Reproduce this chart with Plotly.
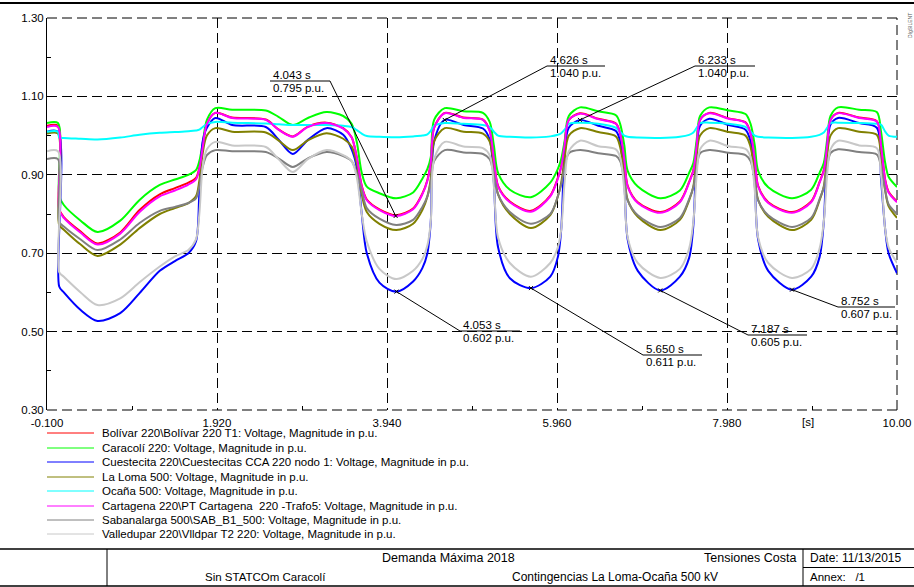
import plotly.graph_objects as go

# ---------------- data ----------------
time_s = [
    -0.10, 0.03,
    0.045, 0.10, 0.30, 0.50, 0.77, 1.00, 1.24, 1.42, 1.58, 1.67, 1.71, 1.75, 1.80,
    1.90, 2.10, 2.50, 2.65, 2.82, 3.00, 3.22, 3.42,
    3.52, 3.58, 3.64, 3.70, 3.85, 4.05, 4.25, 4.36, 4.42, 4.46, 4.50,
    4.626, 4.85, 5.08,
    5.16, 5.21, 5.26, 5.40, 5.65, 5.88, 5.97, 6.01, 6.05, 6.10,
    6.233, 6.45, 6.66,
    6.71, 6.76, 6.80, 6.92, 7.187, 7.42, 7.53, 7.58, 7.62, 7.66,
    7.77, 8.00, 8.20,
    8.26, 8.31, 8.35, 8.47, 8.752, 8.98, 9.08, 9.13, 9.17, 9.21,
    9.30, 9.55, 9.76,
    9.81, 9.86, 9.90, 10.00,
]

bolivar = [
    1.025, 1.025,
    0.812, 0.792, 0.755, 0.725, 0.753, 0.810, 0.850, 0.866, 0.880, 0.892, 0.918, 0.972, 1.030,
    1.058, 1.046, 1.041, 1.016, 0.998, 1.023, 1.033, 1.019,
    0.996, 0.946, 0.872, 0.837, 0.812, 0.797, 0.814, 0.852, 0.887, 0.932, 1.020,
    1.058, 1.046, 1.041,
    1.013, 0.942, 0.872, 0.832, 0.808, 0.847, 0.892, 0.922, 0.977, 1.040,
    1.057, 1.043, 1.031,
    1.006, 0.942, 0.872, 0.830, 0.805, 0.832, 0.882, 0.912, 0.977, 1.040,
    1.058, 1.044, 1.034,
    1.006, 0.942, 0.872, 0.830, 0.805, 0.832, 0.882, 0.912, 0.977, 1.040,
    1.058, 1.046, 1.037,
    0.977, 0.887, 0.857, 0.832,
]

caracoli = [
    1.032, 1.032,
    0.846, 0.823, 0.783, 0.754, 0.783, 0.836, 0.874, 0.888, 0.900, 0.912, 0.935, 0.980, 1.040,
    1.070, 1.066, 1.064, 1.048, 1.027, 1.045, 1.060, 1.050,
    1.030, 0.985, 0.905, 0.870, 0.853, 0.840, 0.855, 0.890, 0.915, 0.945, 1.040,
    1.070, 1.062, 1.058,
    1.035, 0.975, 0.905, 0.862, 0.843, 0.880, 0.915, 0.940, 0.985, 1.050,
    1.072, 1.062, 1.052,
    1.030, 0.975, 0.910, 0.870, 0.840, 0.860, 0.905, 0.930, 0.990, 1.050,
    1.072, 1.064, 1.055,
    1.030, 0.975, 0.910, 0.868, 0.840, 0.862, 0.905, 0.930, 0.990, 1.050,
    1.072, 1.066, 1.060,
    1.010, 0.930, 0.895, 0.869,
]

cuestecita = [
    1.010, 1.010,
    0.615, 0.600, 0.555, 0.527, 0.547, 0.598, 0.655, 0.680, 0.700, 0.730, 0.850, 0.985, 1.020,
    1.045, 1.027, 1.022, 0.990, 0.953, 0.989, 1.019, 1.002,
    0.965, 0.920, 0.800, 0.700, 0.625, 0.602, 0.628, 0.662, 0.700, 0.780, 0.985,
    1.040, 1.027, 1.018,
    0.990, 0.880, 0.715, 0.636, 0.611, 0.640, 0.690, 0.760, 0.950, 1.020,
    1.040, 1.025, 1.012,
    0.985, 0.880, 0.735, 0.655, 0.605, 0.640, 0.688, 0.770, 0.960, 1.025,
    1.043, 1.027, 1.015,
    0.985, 0.875, 0.735, 0.655, 0.607, 0.640, 0.690, 0.780, 0.965, 1.028,
    1.045, 1.032, 1.020,
    0.890, 0.760, 0.700, 0.649,
]

la_loma = [
    1.005, 1.005,
    0.772, 0.760, 0.722, 0.693, 0.722, 0.764, 0.800, 0.815, 0.828, 0.845, 0.885, 0.955, 1.000,
    1.019, 1.010, 1.008, 0.988, 0.963, 0.988, 1.006, 0.992,
    0.972, 0.930, 0.850, 0.805, 0.775, 0.759, 0.775, 0.810, 0.845, 0.890, 0.985,
    1.019, 1.010, 1.005,
    0.985, 0.920, 0.850, 0.800, 0.764, 0.797, 0.845, 0.880, 0.940, 1.000,
    1.019, 1.009, 0.998,
    0.971, 0.900, 0.836, 0.793, 0.759, 0.785, 0.835, 0.870, 0.950, 1.000,
    1.019, 1.009, 1.000,
    0.971, 0.900, 0.836, 0.793, 0.759, 0.785, 0.835, 0.870, 0.950, 1.000,
    1.019, 1.010, 1.002,
    0.950, 0.860, 0.820, 0.790,
]

ocana = [
    1.010, 1.010,
    0.995, 0.994, 0.992, 0.990, 0.995, 1.002, 1.007, 1.009, 1.011, 1.013, 1.015, 1.022, 1.030,
    1.035, 1.033, 1.031, 1.029, 1.027, 1.027, 1.027, 1.025,
    1.022, 1.014, 1.005, 0.999, 0.997, 0.996, 0.998, 1.000, 1.003, 1.012, 1.025,
    1.032, 1.030, 1.027,
    1.022, 1.010, 1.000, 0.997, 0.995, 0.998, 1.002, 1.006, 1.015, 1.030,
    1.033, 1.030, 1.020,
    1.010, 1.000, 0.997, 0.995, 0.994, 0.997, 1.002, 1.008, 1.020, 1.032,
    1.033, 1.030, 1.022,
    1.010, 1.000, 0.997, 0.995, 0.994, 0.997, 1.002, 1.008, 1.020, 1.032,
    1.033, 1.032, 1.030,
    1.028, 1.010, 1.000, 0.997,
]

cartagena = [
    1.022, 1.022,
    0.810, 0.790, 0.752, 0.722, 0.750, 0.805, 0.845, 0.860, 0.875, 0.888, 0.915, 0.970, 1.030,
    1.058, 1.045, 1.040, 1.015, 0.997, 1.022, 1.032, 1.018,
    0.995, 0.945, 0.870, 0.835, 0.810, 0.795, 0.812, 0.850, 0.885, 0.930, 1.020,
    1.057, 1.045, 1.040,
    1.012, 0.940, 0.870, 0.830, 0.806, 0.845, 0.890, 0.920, 0.975, 1.040,
    1.056, 1.042, 1.030,
    1.005, 0.940, 0.870, 0.828, 0.803, 0.830, 0.880, 0.910, 0.975, 1.040,
    1.057, 1.043, 1.033,
    1.005, 0.940, 0.870, 0.828, 0.803, 0.830, 0.880, 0.910, 0.975, 1.040,
    1.057, 1.045, 1.036,
    0.975, 0.885, 0.855, 0.830,
]

sabanalarga = [
    0.940, 0.940,
    0.780, 0.768, 0.735, 0.708, 0.735, 0.777, 0.808, 0.818, 0.828, 0.840, 0.870, 0.920, 0.950,
    0.963, 0.960, 0.958, 0.942, 0.920, 0.942, 0.958, 0.948,
    0.935, 0.905, 0.860, 0.815, 0.788, 0.772, 0.785, 0.818, 0.845, 0.880, 0.935,
    0.963, 0.957, 0.953,
    0.940, 0.900, 0.850, 0.805, 0.775, 0.800, 0.845, 0.875, 0.920, 0.955,
    0.963, 0.955, 0.948,
    0.935, 0.885, 0.835, 0.797, 0.767, 0.790, 0.838, 0.868, 0.920, 0.955,
    0.963, 0.956, 0.950,
    0.935, 0.885, 0.835, 0.797, 0.767, 0.790, 0.838, 0.868, 0.920, 0.955,
    0.965, 0.958, 0.952,
    0.920, 0.860, 0.825, 0.800,
]

valledupar = [
    0.960, 0.960,
    0.652, 0.640, 0.600, 0.568, 0.585, 0.626, 0.666, 0.692, 0.708, 0.735, 0.800, 0.920, 0.965,
    0.984, 0.975, 0.971, 0.940, 0.907, 0.940, 0.963, 0.950,
    0.935, 0.895, 0.800, 0.730, 0.660, 0.634, 0.655, 0.685, 0.720, 0.780, 0.940,
    0.984, 0.972, 0.968,
    0.950, 0.870, 0.740, 0.675, 0.640, 0.675, 0.715, 0.760, 0.880, 0.960,
    0.987, 0.973, 0.965,
    0.945, 0.860, 0.740, 0.675, 0.637, 0.660, 0.712, 0.780, 0.900, 0.965,
    0.987, 0.973, 0.966,
    0.945, 0.860, 0.740, 0.675, 0.637, 0.660, 0.712, 0.780, 0.900, 0.965,
    0.987, 0.975, 0.968,
    0.900, 0.760, 0.715, 0.675,
]

series_names = [
    "Bolívar 220\\Bolívar 220 T1: Voltage, Magnitude in p.u.",
    "Caracolí 220: Voltage, Magnitude in p.u.",
    "Cuestecita 220\\Cuestecitas CCA 220 nodo 1: Voltage, Magnitude in p.u.",
    "La Loma 500: Voltage, Magnitude in p.u.",
    "Ocaña 500: Voltage, Magnitude in p.u.",
    "Cartagena 220\\PT Cartagena  220 -Trafo5: Voltage, Magnitude in p.u.",
    "Sabanalarga 500\\SAB_B1_500: Voltage, Magnitude in p.u.",
    "Valledupar 220\\Vlldpar T2 220: Voltage, Magnitude in p.u.",
]
series_values = [bolivar, caracoli, cuestecita, la_loma, ocana, cartagena, sabanalarga, valledupar]
series_colors = ["#ff0000", "#00ff00", "#0000ff", "#808000", "#00ffff", "#ff00ff", "#808080", "#c8c8c8"]

x_tick_vals = [-0.1, 1.92, 3.94, 5.96, 7.98, 10.0]
x_tick_text = ["-0.100", "1.920", "3.940", "5.960", "7.980", "10.00"]
y_tick_vals = [0.30, 0.50, 0.70, 0.90, 1.10, 1.30]
y_tick_text = ["0.30", "0.50", "0.70", "0.90", "1.10", "1.30"]

# annotated points (time, value)
mark_t = [4.043, 4.626, 6.233, 4.053, 5.650, 7.187, 8.752]
mark_v = [0.795, 1.040, 1.040, 0.602, 0.611, 0.605, 0.607]

# ---------------- geometry ----------------
W, H = 914, 587
PX0, PX1 = 47, 897      # plot area left/right (px)
PY0, PY1 = 18, 410      # plot area top/bottom (px)
XMIN, XMAX = -0.1, 10.0
YMIN, YMAX = 0.30, 1.30


def fx(p):
    return p / W


def fy(p):
    return 1 - p / H


def dx_of(p):
    return XMIN + (p - PX0) / (PX1 - PX0) * (XMAX - XMIN)


def dy_of(p):
    return YMAX - (p - PY0) / (PY1 - PY0) * (YMAX - YMIN)


FONT = "Liberation Sans, Arial, Helvetica, sans-serif"
NARROW = "Liberation Sans Narrow, Arial Narrow, Liberation Sans, Arial, sans-serif"

fig = go.Figure()
for name, vals, col in zip(series_names, series_values, series_colors):
    assert len(vals) == len(time_s)
    fig.add_trace(go.Scatter(
        x=time_s, y=vals, mode="lines", name=name,
        line=dict(color=col, width=2, shape="spline", smoothing=0.85),
        hoverinfo="skip", showlegend=False,
    ))

# small cross at annotated points
fig.add_trace(go.Scatter(
    x=mark_t, y=mark_v, mode="markers",
    marker=dict(symbol="x-thin", size=4, line=dict(color="black", width=1)),
    hoverinfo="skip", showlegend=False,
))

shapes = []
annots = []

# label placement (pixel position of the underline's left end) and leader attach side
label_pos = [(270, 81), (547, 66), (695, 66), (460, 331), (643, 355), (748, 335), (838, 307)]
label_len = [60, 58, 60, 60, 59, 59, 57]
attach_right = [True, False, False, False, False, False, False]

for t, v, (lx, ly), ll, ar in zip(mark_t, mark_v, label_pos, label_len, attach_right):
    ax = lx + ll if ar else lx
    shapes.append(dict(type="line", xref="x", yref="y", x0=t, y0=v,
                       x1=dx_of(ax), y1=dy_of(ly), line=dict(color="black", width=1)))
    shapes.append(dict(type="line", xref="x", yref="y", x0=dx_of(lx), y0=dy_of(ly),
                       x1=dx_of(lx + ll), y1=dy_of(ly), line=dict(color="black", width=1)))
    annots.append(dict(xref="x", yref="y", x=dx_of(lx + 1), y=dy_of(ly - 6.5),
                       text=f"{t:.3f} s", showarrow=False, xanchor="left", yanchor="middle",
                       font=dict(family=FONT, size=11.5, color="black")))
    annots.append(dict(xref="x", yref="y", x=dx_of(lx + 1), y=dy_of(ly + 6.5),
                       text=f"{v:.3f} p.u.", showarrow=False, xanchor="left", yanchor="middle",
                       font=dict(family=FONT, size=11.5, color="black")))

# boundary dashed lines of the plot frame (top, right, bottom)
dash = "10px,5px"
shapes.append(dict(type="line", xref="paper", yref="paper", x0=fx(PX0), x1=fx(PX1), y0=fy(PY0), y1=fy(PY0),
                   line=dict(color="black", width=1, dash=dash), layer="below"))
shapes.append(dict(type="line", xref="paper", yref="paper", x0=fx(PX0), x1=fx(PX1), y0=fy(PY1), y1=fy(PY1),
                   line=dict(color="black", width=1, dash=dash), layer="below"))
shapes.append(dict(type="line", xref="paper", yref="paper", x0=fx(PX1), x1=fx(PX1), y0=fy(PY1), y1=fy(PY0),
                   line=dict(color="black", width=1, dash=dash), layer="below"))

# "[s]" unit label
annots.append(dict(xref="paper", yref="paper", x=fx(808), y=fy(422), text="[s]", showarrow=False,
                   xanchor="center", yanchor="middle", font=dict(family=FONT, size=11.5, color="black")))

# manual legend
leg_y = [433, 448, 462, 477, 491, 506, 520, 534]
for name, col, ly in zip(series_names, series_colors, leg_y):
    shapes.append(dict(type="line", xref="paper", yref="paper", x0=fx(47), x1=fx(94), y0=fy(ly), y1=fy(ly),
                       line=dict(color=col, width=1)))
    annots.append(dict(xref="paper", yref="paper", x=fx(100), y=fy(ly), text=name, showarrow=False,
                       xanchor="left", yanchor="middle", font=dict(family=FONT, size=11.5, color="black")))

# top rule
shapes.append(dict(type="line", xref="paper", yref="paper", x0=0, x1=1, y0=fy(3), y1=fy(3),
                   line=dict(color="black", width=2)))
# bottom title block
shapes.append(dict(type="line", xref="paper", yref="paper", x0=0, x1=1, y0=fy(549), y1=fy(549),
                   line=dict(color="black", width=1.5)))
shapes.append(dict(type="line", xref="paper", yref="paper", x0=0, x1=1, y0=fy(586), y1=fy(586),
                   line=dict(color="black", width=1.5)))
shapes.append(dict(type="line", xref="paper", yref="paper", x0=fx(107), x1=fx(107), y0=fy(549), y1=fy(586),
                   line=dict(color="black", width=1)))
shapes.append(dict(type="line", xref="paper", yref="paper", x0=fx(803), x1=fx(803), y0=fy(549), y1=fy(586),
                   line=dict(color="black", width=1)))
shapes.append(dict(type="line", xref="paper", yref="paper", x0=fx(803), x1=1, y0=fy(567.5), y1=fy(567.5),
                   line=dict(color="black", width=1)))

tb = [
    ("Demanda Máxima 2018", 448, 558, "center", 12.5),
    ("Tensiones Costa", 798, 558, "right", 12.5),
    ("Sin STATCOm Caracolí", 265, 577, "center", 11.5),
    ("Contingencias La Loma-Ocaña 500 kV", 615, 577, "center", 12),
    ("Date: 11/13/2015", 808, 558, "left", 12),
    ("Annex:   /1", 808, 577, "left", 11.5),
]
for txt, x, y, anc, sz in tb:
    annots.append(dict(xref="paper", yref="paper", x=fx(x), y=fy(y), text=txt, showarrow=False,
                       xanchor=anc, yanchor="middle", font=dict(family=NARROW, size=sz, color="black")))

# small vertical logo text top-right
annots.append(dict(xref="paper", yref="paper", x=fx(910), y=fy(26), text="DIgSILENT", showarrow=False,
                   textangle=-90, xanchor="center", yanchor="middle",
                   font=dict(family=FONT, size=5, color="#555555")))

fig.update_layout(
    width=W, height=H,
    margin=dict(l=0, r=0, t=0, b=0, autoexpand=False),
    paper_bgcolor="white", plot_bgcolor="white",
    showlegend=False,
    font=dict(family=FONT, size=11, color="black"),
    shapes=shapes, annotations=annots,
    xaxis=dict(
        domain=[fx(PX0), fx(PX1)], range=[XMIN, XMAX],
        tickmode="array", tickvals=x_tick_vals, ticktext=x_tick_text,
        showgrid=True, gridcolor="black", gridwidth=1, griddash=dash,
        zeroline=False, showline=False, ticks="", ticklabelstandoff=4,
        tickfont=dict(family=FONT, size=11.5, color="black"),
        minor=dict(tickvals=[0.91, 2.93, 4.95, 6.97, 8.99], ticks="inside", ticklen=4,
                   tickcolor="black", showgrid=False),
        fixedrange=True,
    ),
    yaxis=dict(
        domain=[fy(PY1), fy(PY0)], range=[YMIN, YMAX],
        tickmode="array", tickvals=y_tick_vals, ticktext=y_tick_text,
        showgrid=True, gridcolor="black", gridwidth=1, griddash=dash,
        zeroline=False, showline=True, linecolor="black", linewidth=1, ticks="",
        tickfont=dict(family=FONT, size=11.5, color="black"),
        minor=dict(tickvals=[0.40, 0.60, 0.80, 1.00, 1.20], ticks="inside", ticklen=4,
                   tickcolor="black", showgrid=False),
        fixedrange=True,
    ),
)

fig.write_html(
    "out.html",
    config={"displayModeBar": False},
    post_script="document.documentElement.style.margin='0';document.body.style.margin='0';"
                "document.body.style.padding='0';document.body.style.overflow='hidden';",
)
